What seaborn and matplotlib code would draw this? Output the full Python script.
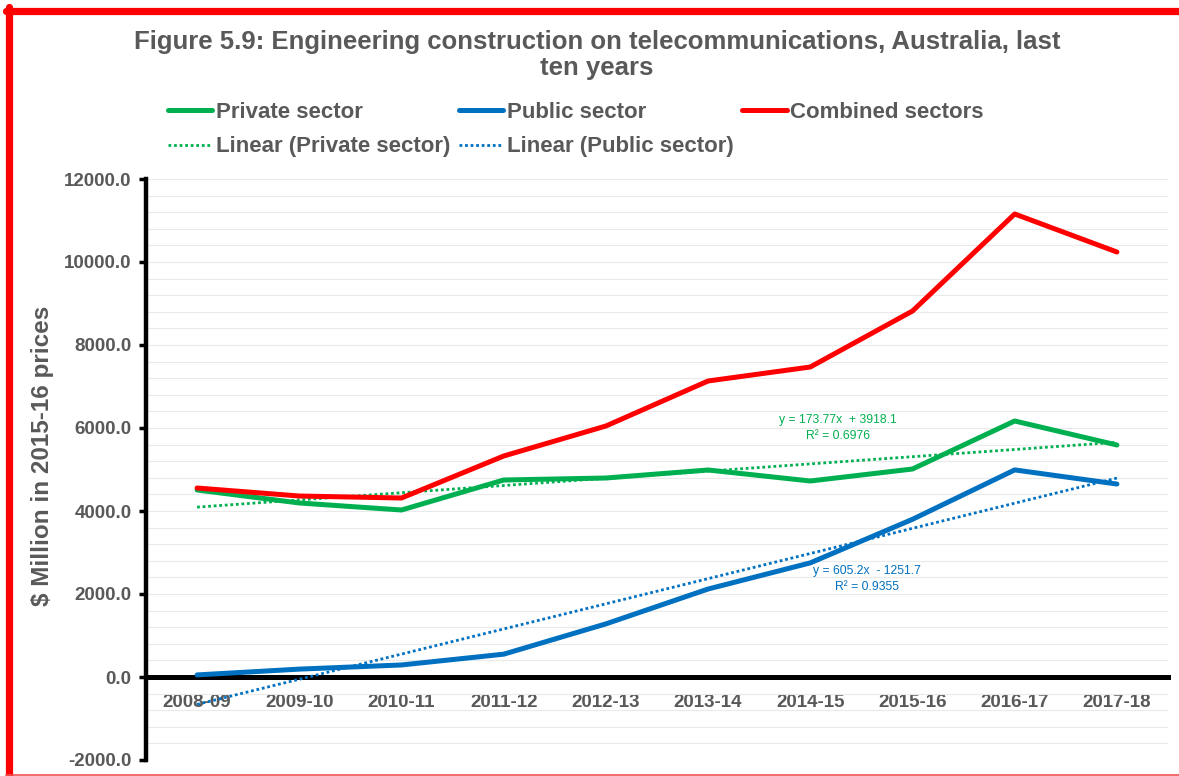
"""
Engineering construction on telecommunications, Australia (Figure 5.9).
"""

import numpy as np
import pandas as pd
import matplotlib
from matplotlib import pyplot as plt
from matplotlib.lines import Line2D
from matplotlib.ticker import FuncFormatter, MultipleLocator
import seaborn as sns

matplotlib.use('Agg')

# Datos ($ millones, precios 2015-16)
years = ['2008-09', '2009-10', '2010-11', '2011-12', '2012-13',
         '2013-14', '2014-15', '2015-16', '2016-17', '2017-18']
private = [4506, 4193, 4024, 4747, 4795, 4988, 4723, 5012, 6169, 5590]
public = [50, 190, 290, 550, 1280, 2120, 2750, 3800, 4990, 4650]
combined = [4554, 4361, 4313, 5325, 6048, 7133, 7470, 8819, 11157, 10241]

private_eq = 'y = 173.77x  + 3918.1\nR² = 0.6976'
public_eq = 'y = 605.2x  - 1251.7\nR² = 0.9355'

GREEN = '#00B050'
BLUE = '#0070C0'
RED = '#FF0000'
GREY = '#595959'

sns.set_style('white')
plt.rcParams['font.family'] = ['Liberation Sans', 'DejaVu Sans']

df = pd.DataFrame({'x': np.arange(len(years)), 'year': years,
                   'private': private, 'public': public, 'combined': combined})

fig = plt.figure(figsize=(11.79, 7.76), dpi=100)
ax = fig.add_axes([146 / 1179, 1 - 760 / 776, 1022 / 1179, 581 / 776])

# Líneas de tendencia (regresión lineal), punteadas
sns.regplot(x='x', y='private', data=df, ax=ax, scatter=False, ci=None,
            color=GREEN, label='Linear (Private sector)',
            line_kws=dict(linestyle=(0, (1, 1)), linewidth=2, zorder=3))
sns.regplot(x='x', y='public', data=df, ax=ax, scatter=False, ci=None,
            color=BLUE, label='Linear (Public sector)',
            line_kws=dict(linestyle=(0, (1, 1)), linewidth=2, zorder=3))

# Series principales
sns.lineplot(x='x', y='private', data=df, ax=ax, color=GREEN, linewidth=3.6,
             label='Private sector', zorder=4)
sns.lineplot(x='x', y='public', data=df, ax=ax, color=BLUE, linewidth=3.6,
             label='Public sector', zorder=4)
sns.lineplot(x='x', y='combined', data=df, ax=ax, color=RED, linewidth=3.6,
             label='Combined sectors', zorder=5)

# Ecuaciones de tendencia
ax.text(6.27, 6000, private_eq, color=GREEN, fontsize=8.7, ha='center',
        va='center', linespacing=1.5, zorder=6)
ax.text(6.55, 2360, public_eq, color=BLUE, fontsize=8.7, ha='center',
        va='center', linespacing=1.5, zorder=6)

# Ejes
ax.set_xlim(-0.5, len(years) - 0.5)
ax.set_ylim(-2000, 12000)
ax.set_xticks(df['x'])
ax.set_xticklabels(years)
ax.yaxis.set_major_locator(MultipleLocator(2000))
ax.yaxis.set_minor_locator(MultipleLocator(400))
ax.yaxis.set_major_formatter(FuncFormatter(lambda v, p: f'{v:.1f}'))
ax.grid(which='both', axis='y', color='#EAEAEA', linewidth=0.8)
ax.set_axisbelow(True)

for s in ['top', 'right']:
    ax.spines[s].set_visible(False)
ax.spines['left'].set_linewidth(3.2)
ax.spines['left'].set_color('black')
ax.spines['bottom'].set_position(('data', 0))
ax.spines['bottom'].set_linewidth(3.6)
ax.spines['bottom'].set_color('black')
ax.spines['bottom'].set_zorder(2)

ax.tick_params(axis='y', which='major', left=True, length=5, width=2.5,
               color='black', pad=5.5, labelsize=13.5, labelcolor=GREY)
ax.tick_params(axis='y', which='minor', left=False)
ax.tick_params(axis='x', bottom=False, length=0, pad=12.5, labelsize=13.5,
               labelcolor=GREY)
for lbl in ax.get_xticklabels() + ax.get_yticklabels():
    lbl.set_fontweight('bold')
ax.set_xlabel('')
ax.set_ylabel('')

# Leyenda en dos filas
handles, labels = ax.get_legend_handles_labels()
lookup = dict(zip(labels, handles))
order = ['Private sector', 'Linear (Private sector)', 'Public sector',
         'Linear (Public sector)', 'Combined sectors']
ax.get_legend().remove()
fig.legend([lookup[k] for k in order], order, loc='upper left',
           bbox_to_anchor=(168 / 1179, 1 - 102 / 776), ncol=3, frameon=False,
           borderpad=0, borderaxespad=0, handlelength=2.0, handletextpad=0.15,
           columnspacing=0.4, labelspacing=0.6,
           prop=dict(size=16, weight='bold'), labelcolor=GREY)

# Título y etiqueta del eje Y
fig.text(597 / 1179, 1 - 30 / 776,
         'Figure 5.9: Engineering construction on telecommunications, Australia, last\nten years',
         ha='center', va='top', fontsize=18.5, fontweight='bold', color=GREY,
         linespacing=1.1)
fig.text(43 / 1179, 1 - 456 / 776, '$ Million in 2015-16 prices', rotation=90,
         ha='center', va='center', fontsize=17.5, fontweight='bold', color=GREY)

# Marco rojo
fig.add_artist(Line2D([6 / 1179, 1], [1 - 10.5 / 776] * 2, color=RED,
                      linewidth=5.2, transform=fig.transFigure))
fig.add_artist(Line2D([9.5 / 1179] * 2, [1 - 7 / 776, 0], color=RED,
                      linewidth=5.2, transform=fig.transFigure))
fig.add_artist(Line2D([6 / 1179, 1], [1 - 775 / 776] * 2, color='#F05050',
                      linewidth=1.2, transform=fig.transFigure))

fig.savefig('out.png', dpi=100)
plt.close(fig)
